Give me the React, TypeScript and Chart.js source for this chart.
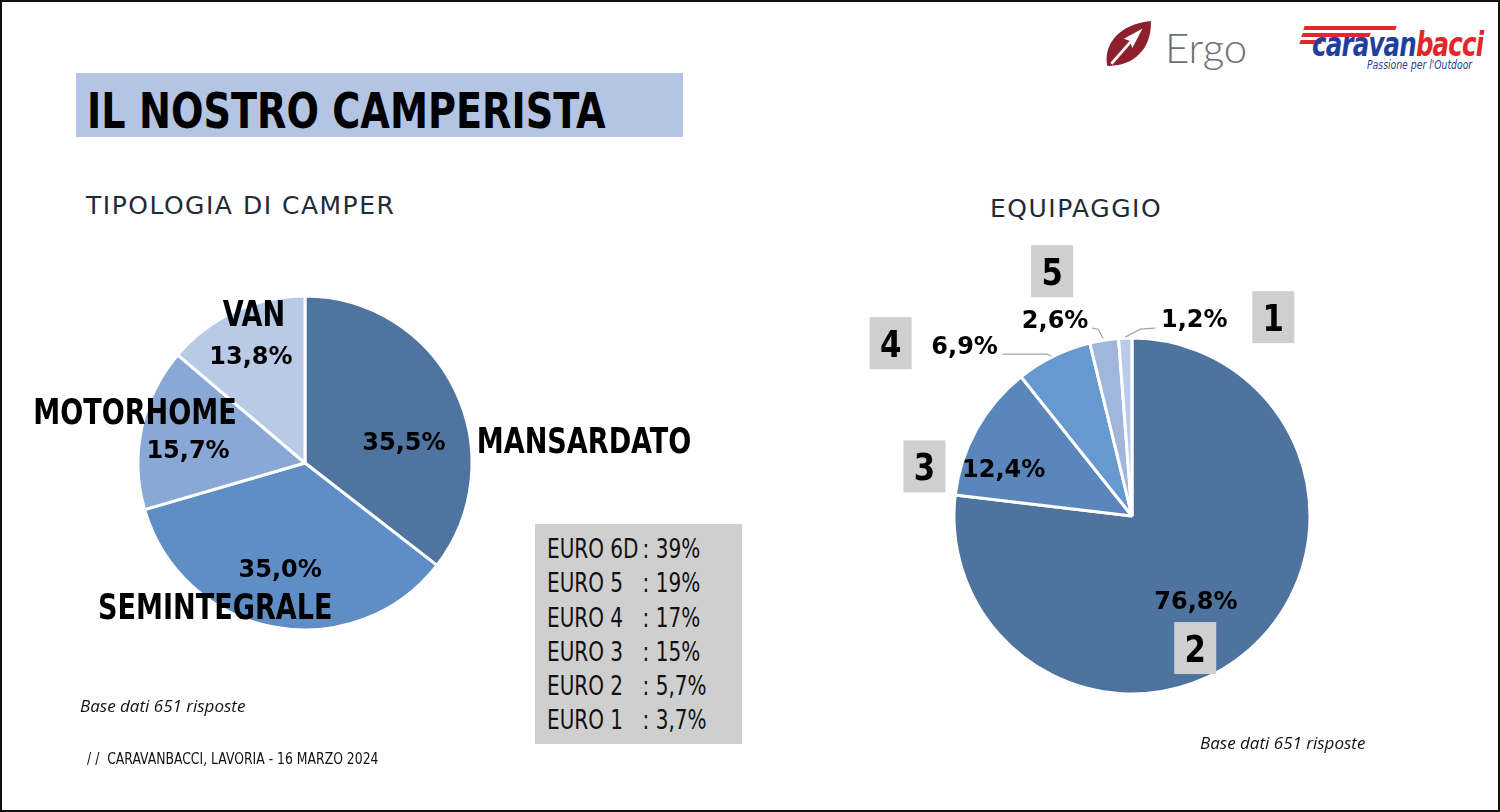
import React, { useEffect, useRef } from "react";
import { Chart, registerables } from "chart.js";

Chart.register(...registerables);

// ---------- DATA ----------
const typeCategories = ["MANSARDATO", "SEMINTEGRALE", "MOTORHOME", "VAN"];
const typeValues = [35.5, 35.0, 15.7, 13.8];
const typeColors = ["#4f74a0", "#5f8ec6", "#89a8d6", "#b9cae6"];

const crewCategories = ["2", "3", "4", "5", "1"];
const crewValues = [76.8, 12.4, 6.9, 2.6, 1.2];
const crewColors = ["#4e739f", "#5a86bc", "#6699d0", "#a0b6db", "#bccce8"];

const euroLabels = ["EURO 6D", "EURO 5", "EURO 4", "EURO 3", "EURO 2", "EURO 1"];
const euroValues = ["39%", "19%", "17%", "15%", "5,7%", "3,7%"];

// ---------- LAYOUT / STYLE ----------
const W = 1500;
const H = 812;
const BORDER = 3;
const NARROW = '"Liberation Sans Narrow", "DejaVu Sans Condensed", "Arial Narrow", sans-serif';
const PCT_FONT = 'bold 24px "DejaVu Sans", Verdana, sans-serif';

const fmt = (v: number) => v.toFixed(1).replace(".", ",") + "%";

function padFor(cx: number, cy: number, r: number) {
  const h = r + BORDER / 2;
  return { left: cx - h, top: cy - h, right: W - (cx + h), bottom: H - (cy + h) };
}

type P = [number, number];

function drawScaled(ctx: CanvasRenderingContext2D, s: string, x: number, y: number, sx: number) {
  ctx.save();
  ctx.translate(x, y);
  ctx.scale(sx, 1);
  ctx.fillText(s, 0, 0);
  ctx.restore();
}

const sliceLabelsPlugin = {
  id: "sliceLabels",
  afterDatasetsDraw(chart: any, _args: any, opts: any) {
    const ctx: CanvasRenderingContext2D = chart.ctx;
    const meta = chart.getDatasetMeta(0);
    const labels = chart.data.labels as string[];
    const values = chart.data.datasets[0].data as number[];
    ctx.save();
    meta.data.forEach((el: any, i: number) => {
      const p = el.getProps(["x", "y", "startAngle", "endAngle", "outerRadius"], true);
      const mid = (p.startAngle + p.endAngle) / 2;
      const at = (f: number, d: P): P => [
        p.x + Math.cos(mid) * p.outerRadius * f + d[0],
        p.y + Math.sin(mid) * p.outerRadius * f + d[1],
      ];
      // leader lines
      if (opts.leaders && opts.leaders[i]) {
        ctx.strokeStyle = opts.leaderColor;
        ctx.lineWidth = 1.2;
        ctx.beginPath();
        (opts.leaders[i] as P[]).forEach((d, k) => {
          const [x, y] = at(1, d);
          if (k === 0) ctx.moveTo(x, y);
          else ctx.lineTo(x, y);
        });
        ctx.stroke();
      }
      ctx.textAlign = "center";
      ctx.textBaseline = "alphabetic";
      // category labels
      if (opts.cat) {
        const c = opts.cat;
        const [x, y] = at(c.f[i], c.nudge[i]);
        if (c.box) {
          ctx.fillStyle = c.box.fill;
          ctx.fillRect(x - c.box.w / 2, y - c.box.h / 2, c.box.w, c.box.h);
        }
        ctx.font = c.font;
        ctx.fillStyle = "#000";
        drawScaled(ctx, labels[i], x, y + c.size * 0.36, c.sx);
      }
      // percentage labels
      const pc = opts.pct;
      const [x, y] = at(pc.f[i], pc.nudge[i]);
      ctx.font = pc.font;
      ctx.fillStyle = "#000";
      drawScaled(ctx, fmt(values[i]), x, y + pc.size * 0.365, 1);
    });
    ctx.restore();
  },
};

function PieCanvas({ config }: { config: any }) {
  const ref = useRef<HTMLCanvasElement>(null);
  useEffect(() => {
    if (!ref.current) return;
    const chart = new Chart(ref.current, config);
    return () => chart.destroy();
  }, []);
  return (
    <canvas
      ref={ref}
      width={W}
      height={H}
      style={{ position: "absolute", left: 0, top: 0, width: W, height: H }}
    />
  );
}

function pieConfig(
  labels: string[],
  values: number[],
  colors: string[],
  cx: number,
  cy: number,
  r: number,
  labelOpts: any
) {
  return {
    type: "pie",
    data: {
      labels,
      datasets: [
        {
          data: values,
          backgroundColor: colors,
          borderColor: "#ffffff",
          borderWidth: BORDER,
          hoverBorderWidth: BORDER,
          hoverOffset: 0,
        },
      ],
    },
    options: {
      responsive: false,
      animation: false,
      devicePixelRatio: 1,
      layout: { padding: padFor(cx, cy, r) },
      events: [],
      plugins: {
        legend: { display: false },
        tooltip: { enabled: false },
        sliceLabels: labelOpts,
      },
    },
    plugins: [sliceLabelsPlugin],
  };
}

const leftConfig = pieConfig(typeCategories, typeValues, typeColors, 305, 463, 167, {
  pct: {
    font: PCT_FONT,
    size: 24,
    f: [0.6, 0.6, 0.6, 0.6],
    nudge: [[9, 22], [-6, 7], [-19, 7], [-12, -17]],
  },
  cat: {
    font: `bold 35px ${NARROW}`,
    size: 35,
    sx: 0.86,
    f: [0.6, 0.6, 0.6, 0.6],
    nudge: [[189, 21], [-71, 45], [-72, -31], [-9, -59]],
  },
});

const rightConfig = pieConfig(crewCategories, crewValues, crewColors, 1132, 516, 178, {
  pct: {
    font: PCT_FONT,
    size: 24,
    f: [0.6, 0.6, 1, 1, 1],
    nudge: [[-7, 4], [-35, 4], [-89, -11], [-49, -21], [69, -20]],
  },
  cat: {
    font: `bold 38px ${NARROW}`,
    size: 38,
    sx: 0.9,
    f: [1, 1, 1, 1, 1],
    nudge: [[-55, -1], [-52, 37], [-163, -13], [-52, -69], [148, -21]],
    box: { w: 42, h: 52, fill: "#d0cfcf" },
  },
  leaderColor: "#a6a6a6",
  leaders: [
    null,
    null,
    [[-2, 0], [-7, -2], [-51, -2]],
    [[-1, -2], [-6, -11], [-12, -12]],
    [[0, -1], [15, -9], [30, -10]],
  ],
});

function text(
  content: React.ReactNode,
  left: number,
  capCenter: number,
  size: number,
  extra: React.CSSProperties = {},
  sx = 1
) {
  return (
    <div
      style={{
        position: "absolute",
        left,
        top: capCenter - size * 0.49,
        fontSize: size,
        lineHeight: 1,
        whiteSpace: "nowrap",
        transform: sx !== 1 ? `scaleX(${sx})` : undefined,
        transformOrigin: "left center",
        ...extra,
      }}
    >
      {content}
    </div>
  );
}

export default function App() {
  return (
    <div
      style={{
        position: "absolute",
        left: 0,
        top: 0,
        width: W,
        height: H,
        background: "#fff",
        overflow: "hidden",
        fontFamily: '"DejaVu Sans", sans-serif',
      }}
    >
      {/* Logos */}
      <svg
        width={52}
        height={52}
        viewBox="0 0 50 50"
        style={{ position: "absolute", left: 1102, top: 18 }}
      >
        <path d="M5 46 C 1 26, 16 6, 47 3 C 48 30, 30 47, 5 46 Z" fill="#8e1f2d" />
        <path d="M9 44 L 30 20" stroke="#fff" strokeWidth={2.6} />
        <path d="M39 10 L 21 20 L 27 22 L 29 29 Z" fill="#fff" />
      </svg>
      {text("Ergo", 1165, 47, 42, {
        fontFamily: "Lato, 'Open Sans', sans-serif",
        fontWeight: 300,
        color: "#707070",
      })}
      <div style={{ position: "absolute", left: 1304, top: 26, width: 92, height: 4, background: "#e2262b", transform: "skewX(-20deg)" }} />
      <div style={{ position: "absolute", left: 1302, top: 33, width: 68, height: 4, background: "#e2262b", transform: "skewX(-20deg)" }} />
      <div style={{ position: "absolute", left: 1300, top: 40, width: 22, height: 4, background: "#e2262b", transform: "skewX(-20deg)" }} />
      {text(
        <span>
          <span style={{ color: "#1e3f9b" }}>caravan</span>
          <span style={{ color: "#e2262b" }}>bacci</span>
        </span>,
        1312,
        44,
        34,
        { fontFamily: NARROW, fontWeight: "bold", fontStyle: "italic", letterSpacing: -1 },
        0.8
      )}
      {text(
        "Passione per l'Outdoor",
        1367,
        65,
        12,
        {
          fontFamily: "'DejaVu Sans Condensed', sans-serif",
          fontStyle: "italic",
          color: "#1e3f9b",
        },
        0.86
      )}

      {/* Title */}
      <div
        style={{
          position: "absolute",
          left: 76,
          top: 73,
          width: 607,
          height: 64,
          background: "#b4c5e4",
        }}
      />
      {text(
        "IL NOSTRO CAMPERISTA",
        87,
        110,
        50,
        {
          fontFamily: NARROW,
          fontWeight: "bold",
          color: "#000",
        },
        0.85
      )}

      {/* Section titles */}
      {text("TIPOLOGIA DI CAMPER", 86, 205, 25, {
        color: "#222a38",
        letterSpacing: 1.5,
        fontFamily: '"DejaVu Sans", sans-serif',
      })}
      {text("EQUIPAGGIO", 990, 208, 25, {
        color: "#222a38",
        letterSpacing: 1.5,
        fontFamily: '"DejaVu Sans", sans-serif',
      })}

      <PieCanvas config={leftConfig} />
      <PieCanvas config={rightConfig} />

      {/* EURO box */}
      <div
        style={{
          position: "absolute",
          left: 535,
          top: 524,
          width: 207,
          height: 220,
          background: "#d0cfcf",
          boxSizing: "border-box",
          paddingTop: 8,
          paddingLeft: 12,
          fontFamily: NARROW,
          fontSize: 27,
          lineHeight: "34.3px",
          color: "#111",
        }}
      >
        {euroLabels.map((l, i) => (
          <div
            key={l}
            style={{
              whiteSpace: "nowrap",
              transform: "scaleX(0.824)",
              transformOrigin: "left center",
            }}
          >
            <span style={{ display: "inline-block", width: 116 }}>{l}</span>
            <span>: {euroValues[i]}</span>
          </div>
        ))}
      </div>

      {/* Notes */}
      {text("Base dati 651 risposte", 80, 705, 17, {
        fontStyle: "italic",
        fontFamily: '"Open Sans", sans-serif',
        color: "#111",
      })}
      {text("Base dati 651 risposte", 1200, 742, 17, {
        fontStyle: "italic",
        fontFamily: '"Open Sans", sans-serif',
        color: "#111",
      })}
      {text(
        "/ /  CARAVANBACCI, LAVORIA - 16 MARZO 2024",
        87,
        759,
        15,
        {
          fontFamily: NARROW,
          color: "#111",
          whiteSpace: "pre",
        },
        0.92
      )}

      {/* Slide frame */}
      <div
        style={{
          position: "absolute",
          left: 0,
          top: 0,
          width: W,
          height: H,
          boxSizing: "border-box",
          border: "2px solid #111",
          pointerEvents: "none",
        }}
      />
    </div>
  );
}
